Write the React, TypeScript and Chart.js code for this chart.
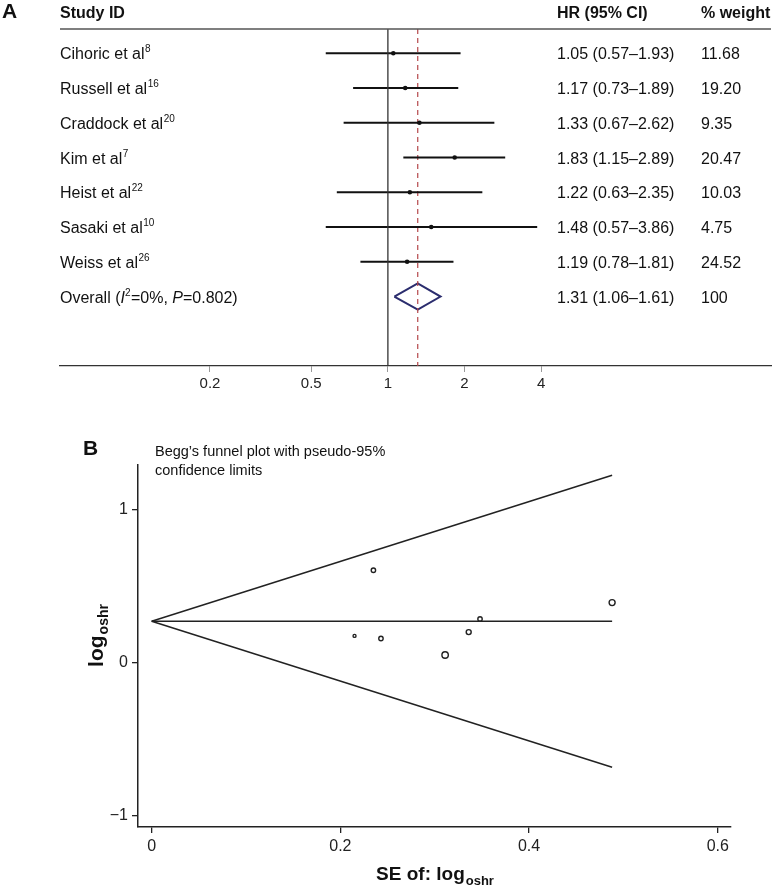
import React, { useEffect, useRef } from 'react';
import { Chart, registerables } from 'chart.js';

Chart.register(...registerables);

const FONT = "'Liberation Sans', Arial, Helvetica, sans-serif";

// ---------- Panel A: forest plot ----------
const studyNames = ['Cihoric et al', 'Russell et al', 'Craddock et al', 'Kim et al', 'Heist et al', 'Sasaki et al', 'Weiss et al'];
const studyRefs = ['8', '16', '20', '7', '22', '10', '26'];
const hrValues = [1.05, 1.17, 1.33, 1.83, 1.22, 1.48, 1.19];
const ciLower = [0.57, 0.73, 0.67, 1.15, 0.63, 0.57, 0.78];
const ciUpper = [1.93, 1.89, 2.62, 2.89, 2.35, 3.86, 1.81];
const weights = ['11.68', '19.20', '9.35', '20.47', '10.03', '4.75', '24.52'];
const overallHR = 1.31;
const overallLower = 1.06;
const overallUpper = 1.61;
const overallWeight = '100';
const overallI2 = '0%';
const overallP = '0.802';
const forestTickValues = [0.2, 0.5, 1, 2, 4];
const forestTickLabels = ['0.2', '0.5', '1', '2', '4'];
const headerStudy = 'Study ID';
const headerHR = 'HR (95% CI)';
const headerWeight = '% weight';

// ---------- Panel B: Begg's funnel plot ----------
const funnelSE = [0.311, 0.243, 0.348, 0.235, 0.336, 0.488, 0.215];
const funnelLogHR = [0.049, 0.157, 0.285, 0.604, 0.199, 0.392, 0.174];
const funnelMarkerSize = [3.2, 2.2, 2.2, 2.2, 2.5, 3.0, 1.5];
const limitSE = [0, 0.488];
const upperLimit = [0.27, 1.226];
const lowerLimit = [0.27, -0.686];
const pooledEstimate = [0.27, 0.27];
const funnelXTicks = [0, 0.2, 0.4, 0.6];
const funnelXTickLabels = ['0', '0.2', '0.4', '0.6'];
const funnelYTicks = [-1, 0, 1];
const funnelYTickLabels = ['\u22121', '0', '1'];
const funnelTitle = ['Begg\u2019s funnel plot with pseudo-95%', 'confidence limits'];

const fmt = (v: number) => v.toFixed(2);

const forestTextPlugin = {
  id: 'forestText',
  afterDraw(chart: any) {
    const { ctx, chartArea, scales } = chart;
    const y = scales.y;
    ctx.save();
    ctx.strokeStyle = '#555';
    ctx.lineWidth = 1.5;
    ctx.beginPath();
    ctx.moveTo(chartArea.left, chartArea.top);
    ctx.lineTo(chartArea.right, chartArea.top);
    ctx.stroke();

    ctx.fillStyle = '#111';
    ctx.textAlign = 'left';
    ctx.textBaseline = 'alphabetic';
    ctx.font = `bold 21px ${FONT}`;
    ctx.fillText('A', 2, 18);
    ctx.font = `bold 16px ${FONT}`;
    ctx.fillText(headerStudy, 60, 18);
    ctx.fillText(headerHR, 557, 18);
    ctx.fillText(headerWeight, 701, 18);

    studyNames.forEach((name, i) => {
      const yy = y.getPixelForValue(i) + 6;
      ctx.font = `16px ${FONT}`;
      ctx.fillText(name, 60, yy);
      const w = ctx.measureText(name).width;
      ctx.font = `10px ${FONT}`;
      ctx.fillText(studyRefs[i], 60 + w + 0.5, yy - 7);
      ctx.font = `16px ${FONT}`;
      ctx.fillText(`${fmt(hrValues[i])} (${fmt(ciLower[i])}\u2013${fmt(ciUpper[i])})`, 557, yy);
      ctx.fillText(weights[i], 701, yy);
    });

    const oy = y.getPixelForValue(studyNames.length) + 6;
    const segs: [string, string, number][] = [
      ['Overall (', `16px ${FONT}`, 0],
      ['I', `italic 16px ${FONT}`, 0],
      ['2', `10px ${FONT}`, -7],
      [`=${overallI2}, `, `16px ${FONT}`, 0],
      ['P', `italic 16px ${FONT}`, 0],
      [`=${overallP})`, `16px ${FONT}`, 0],
    ];
    let x = 60;
    segs.forEach(([t, f, dy]) => {
      ctx.font = f;
      ctx.fillText(t, x, oy + dy);
      x += ctx.measureText(t).width + (dy ? 0.5 : 0);
    });
    ctx.font = `16px ${FONT}`;
    ctx.fillText(`${fmt(overallHR)} (${fmt(overallLower)}\u2013${fmt(overallUpper)})`, 557, oy);
    ctx.fillText(overallWeight, 701, oy);
    ctx.restore();
  },
};

const funnelTextPlugin = {
  id: 'funnelText',
  afterDraw(chart: any) {
    const { ctx, chartArea } = chart;
    ctx.save();
    ctx.fillStyle = '#111';
    ctx.textAlign = 'left';
    ctx.textBaseline = 'alphabetic';
    ctx.font = `bold 21px ${FONT}`;
    ctx.fillText('B', 83, 55);
    ctx.font = `14.5px ${FONT}`;
    ctx.fillText(funnelTitle[0], 155, 56);
    ctx.fillText(funnelTitle[1], 155, 75);

    // x axis title
    const main = 'SE of: log';
    const sub = 'oshr';
    ctx.font = `bold 19px ${FONT}`;
    const wm = ctx.measureText(main).width;
    ctx.font = `bold 13px ${FONT}`;
    const ws = ctx.measureText(sub).width;
    const cx = (chartArea.left + chartArea.right) / 2;
    const x0 = cx - (wm + ws) / 2;
    ctx.font = `bold 19px ${FONT}`;
    ctx.fillText(main, x0, 480);
    ctx.font = `bold 13px ${FONT}`;
    ctx.fillText(sub, x0 + wm + 1, 485);

    // y axis title (rotated)
    const ymain = 'log';
    ctx.font = `bold 21px ${FONT}`;
    const wym = ctx.measureText(ymain).width;
    ctx.font = `bold 14px ${FONT}`;
    const wys = ctx.measureText(sub).width;
    ctx.translate(103, 236);
    ctx.rotate(-Math.PI / 2);
    const sx = -(wym + wys) / 2;
    ctx.font = `bold 21px ${FONT}`;
    ctx.fillText(ymain, sx, 0);
    ctx.font = `bold 14px ${FONT}`;
    ctx.fillText(sub, sx + wym + 1, 5);
    ctx.restore();
  },
};

export default function App() {
  const refA = useRef<HTMLCanvasElement>(null);
  const refB = useRef<HTMLCanvasElement>(null);

  useEffect(() => {
    const n = studyNames.length;
    const diamondHalf = 0.38;
    const ciSets = studyNames.map((name, i) => ({
      label: name,
      data: [
        { x: ciLower[i], y: i },
        { x: ciUpper[i], y: i },
      ],
      showLine: true,
      borderColor: '#111',
      borderWidth: 2,
      pointRadius: 0,
    }));
    const yMin = -0.7;
    const yMax = 9;
    const chartA = new Chart(refA.current as HTMLCanvasElement, {
      type: 'scatter',
      data: {
        datasets: [
          {
            label: 'null',
            data: [
              { x: 1, y: yMin },
              { x: 1, y: yMax },
            ],
            showLine: true,
            borderColor: '#333',
            borderWidth: 1.3,
            pointRadius: 0,
          },
          ...ciSets,
          {
            label: 'HR',
            data: hrValues.map((v, i) => ({ x: v, y: i })),
            pointRadius: 2.3,
            backgroundColor: '#111',
            borderColor: '#111',
            borderWidth: 0,
          },
          {
            label: 'overall line',
            data: [
              { x: overallHR, y: yMin },
              { x: overallHR, y: yMax },
            ],
            showLine: true,
            borderColor: '#b5474a',
            borderWidth: 1.2,
            borderDash: [5, 4],
            pointRadius: 0,
          },
          {
            label: 'Overall',
            data: [
              { x: overallLower, y: n },
              { x: overallHR, y: n - diamondHalf },
              { x: overallUpper, y: n },
              { x: overallHR, y: n + diamondHalf },
              { x: overallLower, y: n },
            ],
            showLine: true,
            borderColor: '#2b2d6e',
            borderWidth: 2,
            pointRadius: 0,
          },
        ] as any,
      },
      options: {
        responsive: false,
        animation: false,
        devicePixelRatio: 1,
        layout: { padding: { left: 60, right: 0, top: 29, bottom: 0 } },
        plugins: { legend: { display: false }, tooltip: { enabled: false } },
        scales: {
          x: {
            type: 'logarithmic',
            bounds: 'data',
            min: 0.0515,
            max: 32,
            afterBuildTicks: (s: any) => {
              s.ticks = forestTickValues.map((v) => ({ value: v }));
            },
            afterFit: (s: any) => {
              s.height = 34;
            },
            grid: { display: true, drawOnChartArea: false, drawTicks: true, tickLength: 6, color: '#999', lineWidth: 1 },
            border: { display: true, color: '#333', width: 1.3 },
            ticks: {
              autoSkip: false,
              maxRotation: 0,
              padding: 3,
              color: '#222',
              font: { family: FONT, size: 15 },
              callback: (_v: any, idx: number) => forestTickLabels[idx],
            },
          },
          y: { type: 'linear', display: false, min: yMin, max: yMax, reverse: true },
        } as any,
      },
      plugins: [forestTextPlugin],
    });

    const chartB = new Chart(refB.current as HTMLCanvasElement, {
      type: 'scatter',
      data: {
        datasets: [
          {
            label: 'upper limit',
            data: limitSE.map((s, i) => ({ x: s, y: upperLimit[i] })),
            showLine: true,
            borderColor: '#222',
            borderWidth: 1.5,
            pointRadius: 0,
          },
          {
            label: 'lower limit',
            data: limitSE.map((s, i) => ({ x: s, y: lowerLimit[i] })),
            showLine: true,
            borderColor: '#222',
            borderWidth: 1.5,
            pointRadius: 0,
          },
          {
            label: 'pooled',
            data: limitSE.map((s, i) => ({ x: s, y: pooledEstimate[i] })),
            showLine: true,
            borderColor: '#222',
            borderWidth: 1.5,
            pointRadius: 0,
          },
          {
            label: 'studies',
            data: funnelSE.map((s, i) => ({ x: s, y: funnelLogHR[i] })),
            pointRadius: funnelMarkerSize,
            backgroundColor: 'rgba(0,0,0,0)',
            borderColor: '#222',
            borderWidth: 1.4,
          },
        ] as any,
      },
      options: {
        responsive: false,
        animation: false,
        devicePixelRatio: 1,
        layout: { padding: { left: 0, right: 44, top: 65, bottom: 0 } },
        plugins: { legend: { display: false }, tooltip: { enabled: false } },
        scales: {
          x: {
            type: 'linear',
            bounds: 'data',
            min: -0.0145,
            max: 0.614,
            afterBuildTicks: (s: any) => {
              s.ticks = funnelXTicks.map((v) => ({ value: v }));
            },
            afterFit: (s: any) => {
              s.height = 61;
            },
            grid: { display: true, drawOnChartArea: false, drawTicks: true, tickLength: 6, color: '#222', lineWidth: 1.3 },
            border: { display: true, color: '#222', width: 1.5 },
            ticks: {
              autoSkip: false,
              maxRotation: 0,
              padding: 4,
              color: '#222',
              font: { family: FONT, size: 16 },
              callback: (_v: any, idx: number) => funnelXTickLabels[idx],
            },
          },
          y: {
            type: 'linear',
            bounds: 'data',
            min: -1.077,
            max: 1.293,
            afterBuildTicks: (s: any) => {
              s.ticks = funnelYTicks.map((v) => ({ value: v }));
            },
            afterFit: (s: any) => {
              s.width = 138;
            },
            grid: { display: true, drawOnChartArea: false, drawTicks: true, tickLength: 6, color: '#222', lineWidth: 1.3 },
            border: { display: true, color: '#222', width: 1.5 },
            ticks: {
              autoSkip: false,
              padding: 4,
              color: '#222',
              font: { family: FONT, size: 16 },
              callback: (_v: any, idx: number) => funnelYTickLabels[idx],
            },
          },
        } as any,
      },
      plugins: [funnelTextPlugin],
    });

    return () => {
      chartA.destroy();
      chartB.destroy();
    };
  }, []);

  return (
    <div style={{ position: 'absolute', left: 0, top: 0, width: 775, height: 888, background: '#fff' }}>
      <canvas ref={refA} width={775} height={400} style={{ position: 'absolute', left: 0, top: 0, display: 'block' }} />
      <canvas ref={refB} width={775} height={488} style={{ position: 'absolute', left: 0, top: 400, display: 'block' }} />
    </div>
  );
}
